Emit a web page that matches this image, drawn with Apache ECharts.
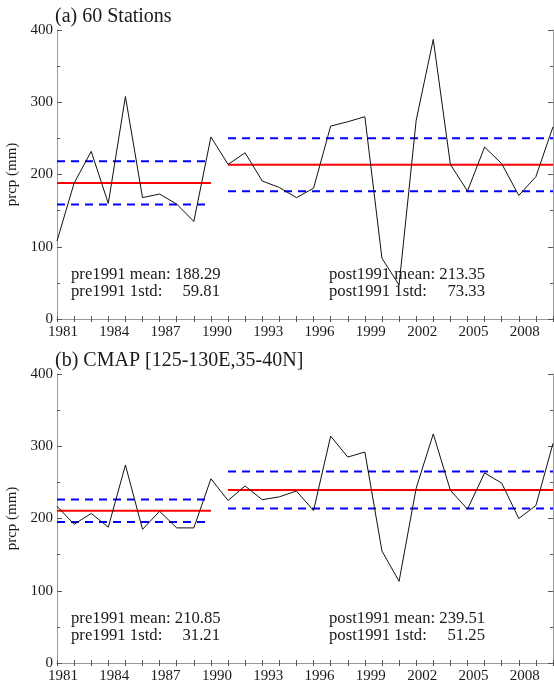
<!DOCTYPE html>
<html>
<head>
<meta charset="utf-8">
<script src="https://cdn.jsdelivr.net/npm/echarts@6/dist/echarts.min.js"></script>
<style>
html,body{margin:0;padding:0;background:#fff;}
#chart{width:554px;height:684px;}
</style>
</head>
<body>
<div id="chart"></div>
<script>
// ---- data ----
const years = [1981,1982,1983,1984,1985,1986,1987,1988,1989,1990,
               1991,1992,1993,1994,1995,1996,1997,1998,1999,2000,
               2001,2002,2003,2004,2005,2006,2007,2008,2009,2010];
const stationsPrcp = [108,188,232,160,308,168,173,159,135,252,
                      214,230,191,182,168,181,267,273,280,84,
                      47,275,387,214,177,238,215,171,197,266];
const cmapPrcp = [217,192,207,188,274,185,210,187,187,255,
                  225,245,226,230,238,211,314,285,292,155,
                  113,242,317,239,213,263,249,200,218,304];
const stationsPreMean = 188.29, stationsPreStd = 59.81;
const stationsPostMean = 213.35, stationsPostStd = 73.33;
const cmapPreMean = 210.85, cmapPreStd = 31.21;
const cmapPostMean = 239.51, cmapPostStd = 51.25;
const preYears = [1981, 1990];
const postYears = [1991, 2010];
const yTicks = [0, 100, 200, 300, 400];
const xLabelYears = [1981,1984,1987,1990,1993,1996,1999,2002,2005,2008];
const titles = ['(a) 60 Stations', '(b) CMAP [125-130E,35-40N]'];
const yName = 'prcp (mm)';

// ---- styling / layout ----
const FONT = '"Liberation Serif","DejaVu Serif",serif';
const AXC = '#9a9a9a';
const TXT = '#1a1a1a';
const grids = [
  {left: 57, top: 30, width: 496, height: 289},
  {left: 57, top: 374, width: 496, height: 289}
];

const chart = echarts.init(document.getElementById('chart'));
const xAxes = [], yAxes = [], series = [], graphics = [];

function addPanel(i, vals, preM, preS, postM, postS) {
  const g = grids[i];
  xAxes.push({
    type: 'value', gridIndex: i, min: years[0], max: years[years.length-1], interval: 1,
    position: 'bottom',
    axisLine: {show: true, lineStyle: {color: AXC, width: 1}},
    axisTick: {show: true, inside: true, length: 3, lineStyle: {color: '#555'}},
    splitLine: {show: false},
    axisLabel: {
      show: true, margin: 6, color: TXT, fontFamily: FONT, fontSize: 15,
      padding: [0, 0, 0, 12],
      formatter: v => xLabelYears.indexOf(v) >= 0 ? String(v) : ''
    }
  });
  xAxes.push({
    type: 'value', gridIndex: i, min: years[0], max: years[years.length-1], interval: 1,
    position: 'top',
    axisLine: {show: true, lineStyle: {color: AXC, width: 1}},
    axisTick: {show: true, inside: true, length: 3, lineStyle: {color: '#555'}},
    splitLine: {show: false},
    axisLabel: {show: false}
  });
  const yCommon = {
    type: 'value', gridIndex: i, min: yTicks[0], max: yTicks[yTicks.length-1], interval: 100,
    splitLine: {show: false},
    axisLine: {show: true, lineStyle: {color: AXC, width: 1}},
    axisTick: {show: true, inside: true, length: 5, lineStyle: {color: '#555'}},
    minorTick: {show: true, splitNumber: 2, length: 3, lineStyle: {color: '#555'}}
  };
  yAxes.push(Object.assign({}, yCommon, {
    position: 'left',
    name: yName, nameLocation: 'middle', nameGap: 29, nameRotate: 90,
    nameTextStyle: {color: TXT, fontFamily: FONT, fontSize: 15},
    axisLabel: {show: true, margin: 4, color: TXT, fontFamily: FONT, fontSize: 15}
  }));
  yAxes.push(Object.assign({}, yCommon, {
    position: 'right', axisLabel: {show: false}
  }));
  const xi = i * 2, yi = i * 2;
  function hline(x0, x1, y, color, dashed) {
    series.push({
      type: 'line', xAxisIndex: xi, yAxisIndex: yi, symbol: 'none', silent: true,
      data: [[x0, y], [x1, y]],
      lineStyle: {color: color, width: 2, type: dashed ? [8, 6] : 'solid'},
      z: 2
    });
  }
  hline(preYears[0], preYears[1], preM + preS / 2, '#0000ff', true);
  hline(preYears[0], preYears[1], preM - preS / 2, '#0000ff', true);
  hline(postYears[0], postYears[1], postM + postS / 2, '#0000ff', true);
  hline(postYears[0], postYears[1], postM - postS / 2, '#0000ff', true);
  hline(preYears[0], preYears[1], preM, '#ff0000', false);
  hline(postYears[0], postYears[1], postM, '#ff0000', false);
  series.push({
    type: 'line', xAxisIndex: xi, yAxisIndex: yi, symbol: 'none', silent: true,
    data: years.map((y, k) => [y, vals[k]]),
    lineStyle: {color: '#111', width: 1},
    z: 3
  });

  graphics.push({type: 'text', left: 55, top: g.top - 23,
    style: {text: titles[i], font: '20px ' + FONT, fill: TXT}});
  const ts = '16.7px ' + FONT;
  const ty1 = g.top + 236, ty2 = g.top + 253;
  graphics.push({type: 'text', x: 71, y: ty1, style: {text: 'pre1991 mean: ' + preM.toFixed(2), font: ts, fill: TXT}});
  graphics.push({type: 'text', x: 71, y: ty2, style: {text: 'pre1991 1std:', font: ts, fill: TXT}});
  graphics.push({type: 'text', x: 220, y: ty2, style: {text: preS.toFixed(2), font: ts, fill: TXT, align: 'right'}});
  graphics.push({type: 'text', x: 329, y: ty1, style: {text: 'post1991 mean: ' + postM.toFixed(2), font: ts, fill: TXT}});
  graphics.push({type: 'text', x: 329, y: ty2, style: {text: 'post1991 1std:', font: ts, fill: TXT}});
  graphics.push({type: 'text', x: 485, y: ty2, style: {text: postS.toFixed(2), font: ts, fill: TXT, align: 'right'}});
}

addPanel(0, stationsPrcp, stationsPreMean, stationsPreStd, stationsPostMean, stationsPostStd);
addPanel(1, cmapPrcp, cmapPreMean, cmapPreStd, cmapPostMean, cmapPostStd);

chart.setOption({
  backgroundColor: '#ffffff',
  animation: false,
  grid: grids.map(g => Object.assign({containLabel: false, outerBoundsMode: 'none'}, g)),
  xAxis: xAxes,
  yAxis: yAxes,
  series: series,
  graphic: graphics
});
</script>
</body>
</html>
